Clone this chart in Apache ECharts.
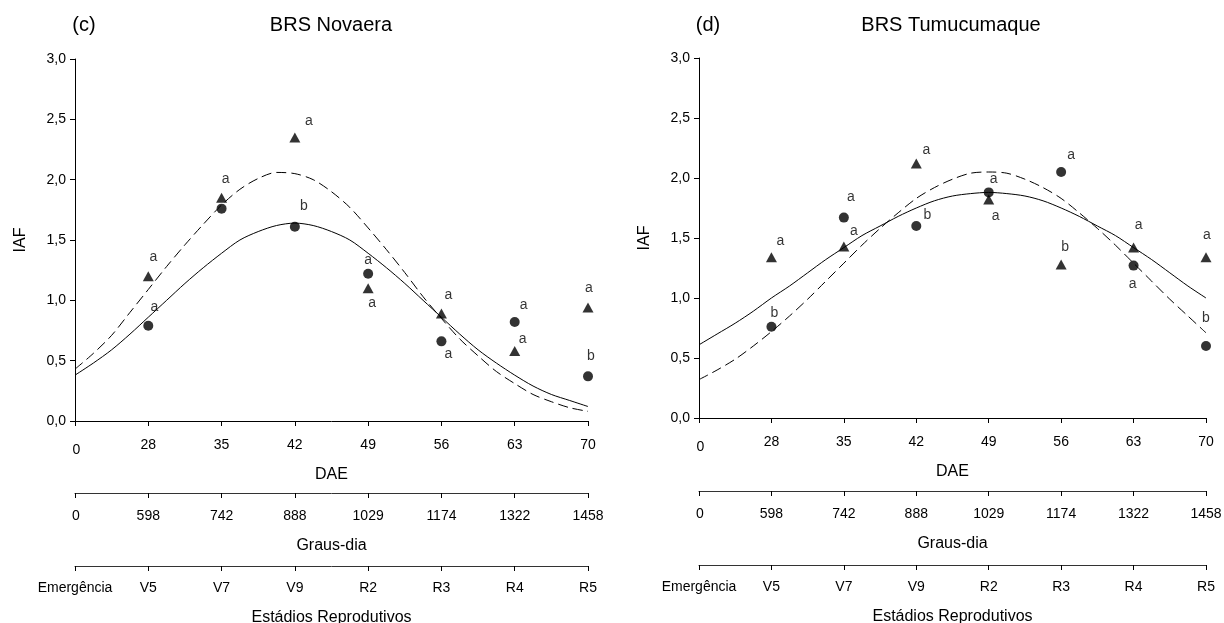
<!DOCTYPE html>
<html lang="pt-BR">
<head>
  <meta charset="UTF-8" />
  <title>IAF - BRS Novaera e BRS Tumucumaque</title>
  <script src="https://cdn.jsdelivr.net/npm/echarts@6.0.0/dist/echarts.min.js"></script>
  <style>
    html, body { margin: 0; padding: 0; background: #fff; }
    #chart { width: 1224px; height: 623px; }
  </style>
</head>
<body>
  <div id="chart"></div>
  <script>
    // eixos (posicoes igualmente espacadas: 0 fica no lugar de 21)
    const daeLabels = ['0', '28', '35', '42', '49', '56', '63', '70'];
    const grausLabels = ['0', '598', '742', '888', '1029', '1174', '1322', '1458'];
    const estadiosLabels = ['Emergência', 'V5', 'V7', 'V9', 'R2', 'R3', 'R4', 'R5'];

    // dados observados (DAE)
    const dae = [28, 35, 42, 49, 56, 63, 70];

    // (c) BRS Novaera
    const novaeraCirculo = [0.79, 1.76, 1.61, 1.22, 0.66, 0.82, 0.37];
    const novaeraTriangulo = [1.20, 1.85, 2.35, 1.10, 0.89, 0.58, 0.94];
    const novaeraLetraCirculo = ['a', '', 'b', 'a', 'a', 'a', 'b'];
    const novaeraLetraTriangulo = ['a', 'a', 'a', 'a', 'a', 'a', 'a'];

    // (d) BRS Tumucumaque
    const tumuCirculo = [0.76, 1.67, 1.60, 1.88, 2.05, 1.27, 0.60];
    const tumuTriangulo = [1.34, 1.43, 2.12, 1.82, 1.28, 1.42, 1.34];
    const tumuLetraCirculo = ['b', 'a', 'b', 'a', 'a', 'a', 'b'];
    const tumuLetraTriangulo = ['a', 'a', 'a', 'a', 'b', 'a', 'a'];

    // curvas ajustadas
    const curvaX = [21, 22.75, 24.5, 26.25, 28, 29.75, 31.5, 33.25, 35, 36.75, 38.5, 40.25, 42, 43.75, 45.5,
      47.25, 49, 50.75, 52.5, 54.25, 56, 57.75, 59.5, 61.25, 63, 64.75, 66.5, 68.25, 70];
    const novaeraCheia = [0.38, 0.48, 0.59, 0.72, 0.86, 1.00, 1.14, 1.27, 1.39, 1.50, 1.57, 1.62, 1.64, 1.62, 1.57,
      1.50, 1.39, 1.27, 1.14, 1.00, 0.86, 0.72, 0.59, 0.48, 0.38, 0.29, 0.22, 0.17, 0.12];
    const novaeraTracejada = [0.43, 0.56, 0.71, 0.90, 1.09, 1.28, 1.46, 1.63, 1.79, 1.92, 2.01, 2.06, 2.05, 2.00, 1.90,
      1.77, 1.60, 1.42, 1.23, 1.03, 0.85, 0.68, 0.54, 0.41, 0.31, 0.22, 0.16, 0.11, 0.08];
    const tumuCheia = [0.61, 0.70, 0.79, 0.89, 1.00, 1.10, 1.21, 1.32, 1.42, 1.52, 1.60, 1.68, 1.75, 1.81, 1.85,
      1.87, 1.88, 1.87, 1.85, 1.81, 1.75, 1.68, 1.60, 1.52, 1.42, 1.32, 1.21, 1.10, 1.00];
    const tumuTracejada = [0.32, 0.40, 0.49, 0.60, 0.72, 0.85, 0.99, 1.14, 1.29, 1.44, 1.58, 1.71, 1.83, 1.92, 1.99,
      2.04, 2.05, 2.04, 1.99, 1.92, 1.83, 1.71, 1.58, 1.44, 1.29, 1.14, 0.99, 0.85, 0.71];

    // deslocamento das letras em relacao ao simbolo (px)
    const novaeraOffCirculo = [[6, -19], [0, 0], [9, -21], [0, -14], [7, 13], [9, -17], [3, -20]];
    const novaeraOffTriangulo = [[5, -19], [4, -19], [14, -16], [4, 15], [7, -18], [8, -12], [1, -19]];
    const tumuOffCirculo = [[3, -14], [7, -20], [11, -11], [5, -13], [10, -17], [-1, 19], [0, -28]];
    const tumuOffTriangulo = [[9, -16], [10, -15], [10, -13], [7, 17], [4, -17], [5, -22], [1, -22]];

    const FONT = 'Liberation Sans, Arial, sans-serif';

    function pares(xs, ys) {
      return xs.map((x, i) => [x, ys[i]]);
    }

    function pontos(ys, letras, offs) {
      return dae.map((x, i) => ({
        value: [x, ys[i]],
        label: {
          show: letras[i] !== '',
          formatter: letras[i],
          position: 'inside',
          offset: offs[i],
          color: '#000',
          fontSize: 14,
          fontFamily: FONT
        }
      }));
    }

    function idx(v) {
      return Math.round((v - 21) / 7);
    }

    // um painel = 1 grid, 3 eixos x (DAE, Graus-dia, Estadios), 1 eixo y
    function painel(g, p) {
      const base = {
        gridIndex: g,
        type: 'value',
        min: 21,
        max: 70,
        interval: 7,
        position: 'bottom',
        splitLine: { show: false },
        nameLocation: 'middle',
        nameTextStyle: { fontSize: 16, fontFamily: FONT, color: '#000' },
        axisTick: { show: true, inside: false, length: 5, lineStyle: { color: '#000' } }
      };
      const xs = [
        Object.assign({}, base, {
          name: 'DAE',
          nameGap: 46,
          axisLine: { lineStyle: { color: '#000', width: 1 } },
          axisLabel: {
            margin: 17, fontSize: 14, fontFamily: FONT, color: '#000',
            formatter: v => idx(v) === 0 ? '{z|0}' : daeLabels[idx(v)],
            rich: { z: { fontSize: 14, fontFamily: FONT, padding: [5, 0, 0, 3] } }
          }
        }),
        Object.assign({}, base, {
          name: 'Graus-dia',
          nameGap: 45,
          offset: p.off1,
          axisLine: { lineStyle: { color: '#333', width: 1 } },
          axisLabel: {
            margin: 16, fontSize: 14, fontFamily: FONT, color: '#000',
            formatter: v => idx(v) === 0 ? '{z|0}' : grausLabels[idx(v)],
            rich: { z: { fontSize: 14, fontFamily: FONT, padding: [0, 0, 4, 2] } }
          }
        }),
        Object.assign({}, base, {
          name: 'Estádios Reprodutivos',
          nameGap: 44,
          offset: p.off2,
          axisLine: { lineStyle: { color: '#333', width: 1 } },
          axisLabel: {
            margin: 15, fontSize: 14, fontFamily: FONT, color: '#000',
            formatter: v => estadiosLabels[idx(v)]
          }
        })
      ];
      const y = {
        gridIndex: g,
        type: 'value',
        min: 0,
        max: 3,
        interval: 0.5,
        name: 'IAF',
        nameLocation: 'middle',
        nameGap: 46,
        nameTextStyle: { fontSize: 16, fontFamily: FONT, color: '#000' },
        splitLine: { show: false },
        axisLine: { show: true, lineStyle: { color: '#000', width: 1 } },
        axisTick: { show: true, inside: false, length: 5, lineStyle: { color: '#000' } },
        axisLabel: {
          margin: 9, fontSize: 14, fontFamily: FONT, color: '#000',
          formatter: v => v.toFixed(1).replace('.', ',')
        }
      };
      return { xs, y };
    }

    const chart = echarts.init(document.getElementById('chart'), null, { renderer: 'canvas' });

    const pc = painel(0, { off1: 72, off2: 145 });
    const pd = painel(1, { off1: 73, off2: 147 });

    function linha(xi, yi, ys, tipo) {
      return {
        type: 'line',
        xAxisIndex: xi,
        yAxisIndex: yi,
        data: pares(curvaX, ys),
        smooth: 0.3,
        showSymbol: false,
        silent: true,
        lineStyle: { color: '#000', width: 1, type: tipo }
      };
    }

    function disp(xi, yi, data, simbolo, tam) {
      return {
        type: 'scatter',
        xAxisIndex: xi,
        yAxisIndex: yi,
        symbol: simbolo,
        symbolSize: tam,
        itemStyle: { color: '#000' },
        data: data,
        z: 5
      };
    }

    const tracejado = [10, 5];

    chart.setOption({
      animation: false,
      backgroundColor: '#fff',
      textStyle: { fontFamily: FONT },
      graphic: [
        { type: 'text', x: 84, y: 25, style: { text: '(c)', fontSize: 20, fontFamily: FONT, fill: '#000', align: 'center', verticalAlign: 'middle' } },
        { type: 'text', x: 331, y: 25, style: { text: 'BRS Novaera', fontSize: 20, fontFamily: FONT, fill: '#000', align: 'center', verticalAlign: 'middle' } },
        { type: 'text', x: 708, y: 25, style: { text: '(d)', fontSize: 20, fontFamily: FONT, fill: '#000', align: 'center', verticalAlign: 'middle' } },
        { type: 'text', x: 951, y: 25, style: { text: 'BRS Tumucumaque', fontSize: 20, fontFamily: FONT, fill: '#000', align: 'center', verticalAlign: 'middle' } }
      ],
      grid: [
        { left: 75, top: 59, width: 513, height: 362, outerBoundsMode: 'none', containLabel: false },
        { left: 699, top: 58, width: 507, height: 360, outerBoundsMode: 'none', containLabel: false }
      ],
      xAxis: pc.xs.concat(pd.xs),
      yAxis: [pc.y, pd.y],
      series: [
        linha(0, 0, novaeraCheia, 'solid'),
        linha(0, 0, novaeraTracejada, tracejado),
        disp(0, 0, pontos(novaeraCirculo, novaeraLetraCirculo, novaeraOffCirculo), 'circle', 10),
        disp(0, 0, pontos(novaeraTriangulo, novaeraLetraTriangulo, novaeraOffTriangulo), 'triangle', [11, 10]),
        linha(3, 1, tumuCheia, 'solid'),
        linha(3, 1, tumuTracejada, tracejado),
        disp(3, 1, pontos(tumuCirculo, tumuLetraCirculo, tumuOffCirculo), 'circle', 10),
        disp(3, 1, pontos(tumuTriangulo, tumuLetraTriangulo, tumuOffTriangulo), 'triangle', [11, 10])
      ]
    });
  </script>
</body>
</html>
